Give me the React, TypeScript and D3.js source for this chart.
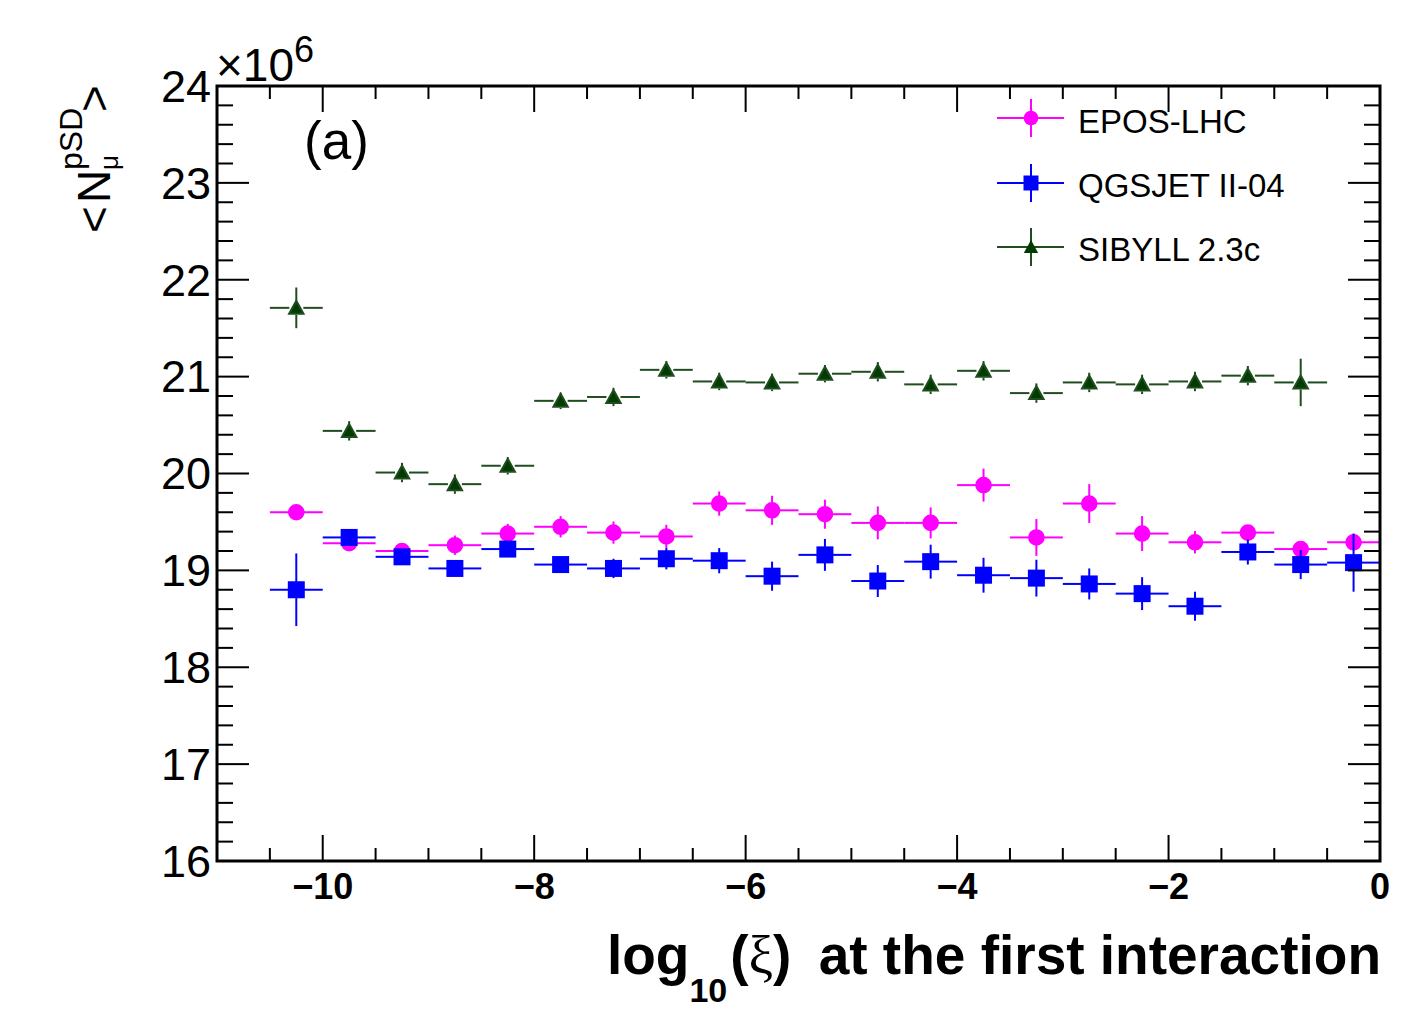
import * as d3 from "d3";

// bin centres of log10(xi), bins are 0.5 wide
const binCenters = [
  -10.25, -9.75, -9.25, -8.75, -8.25, -7.75, -7.25, -6.75, -6.25, -5.75, -5.25,
  -4.75, -4.25, -3.75, -3.25, -2.75, -2.25, -1.75, -1.25, -0.75, -0.25,
];
const binHalfWidth = 0.25;

// <N_mu^pSD> in units of 1e6
const eposMean = [
  19.6, 19.28, 19.2, 19.26, 19.38, 19.45, 19.39, 19.35, 19.69, 19.62, 19.58,
  19.49, 19.49, 19.88, 19.34, 19.69, 19.38, 19.29, 19.39, 19.22, 19.29,
];
const eposErr = [
  0.03, 0.06, 0.08, 0.1, 0.1, 0.11, 0.115, 0.12, 0.125, 0.15, 0.15, 0.17, 0.16,
  0.17, 0.19, 0.2, 0.18, 0.115, 0.07, 0.06, 0.05,
];

const qgsMean = [
  18.8, 19.34, 19.14, 19.02, 19.22, 19.06, 19.02, 19.12, 19.1, 18.94, 19.16,
  18.89, 19.09, 18.95, 18.92, 18.86, 18.76, 18.63, 19.19, 19.06, 19.08,
];
const qgsErr = [
  0.375, 0.05, 0.05, 0.05, 0.06, 0.06, 0.1, 0.11, 0.13, 0.15, 0.165, 0.165,
  0.175, 0.18, 0.19, 0.16, 0.17, 0.15, 0.13, 0.15, 0.3,
];

// SIBYLL has no entry in the last bin
const sibCenters = [
  -10.25, -9.75, -9.25, -8.75, -8.25, -7.75, -7.25, -6.75, -6.25, -5.75, -5.25,
  -4.75, -4.25, -3.75, -3.25, -2.75, -2.25, -1.75, -1.25, -0.75,
];
const sibMean = [
  21.71, 20.44, 20.01, 19.89, 20.08, 20.75, 20.79, 21.07, 20.95, 20.94, 21.03,
  21.05, 20.92, 21.06, 20.83, 20.94, 20.92, 20.95, 21.01, 20.94,
];
const sibErr = [
  0.21, 0.1, 0.1, 0.1, 0.09, 0.085, 0.095, 0.09, 0.09, 0.09, 0.09, 0.1, 0.1,
  0.1, 0.1, 0.1, 0.1, 0.1, 0.1, 0.245,
];

const xMajorTicks = [-10, -8, -6, -4, -2, 0];
const xTickLabels = ["\u221210", "\u22128", "\u22126", "\u22124", "\u22122", "0"];
const yMajorTicks = [16, 17, 18, 19, 20, 21, 22, 23, 24];

const legendNames = ["EPOS-LHC", "QGSJET II-04", "SIBYLL 2.3c"];

const W = 1406;
const H = 1019;
const frame = { left: 217, right: 1380, top: 86, bottom: 861 };
const sans = "'Liberation Sans', Arial, Helvetica, sans-serif";

const x = d3.scaleLinear().domain([-11, 0]).range([frame.left, frame.right]);
const y = d3.scaleLinear().domain([16, 24]).range([frame.bottom, frame.top]);

const xMinorTicks = d3.range(-10.5, 0, 0.5).filter((v) => !xMajorTicks.includes(v));
const yMinorTicks = d3
  .range(16.2, 24, 0.2)
  .filter((v) => Math.abs(v - Math.round(v)) > 0.01);

const GAP = 7; // ROOT leaves a gap around the marker

type MarkerKind = "circle" | "square" | "triangle";

function Marker({ kind, cx, cy, fill }: { kind: MarkerKind; cx: number; cy: number; fill: string }) {
  if (kind === "circle") return <circle cx={cx} cy={cy} r={7.3} fill={fill} />;
  if (kind === "square") return <rect x={cx - 7.5} y={cy - 7.5} width={15} height={15} fill={fill} />;
  return <path d={`M${cx},${cy - 7} L${cx + 7.2},${cy + 6} L${cx - 7.2},${cy + 6} Z`} fill={fill} />;
}

function Series({
  centers,
  means,
  errs,
  line,
  fill,
  kind,
}: {
  centers: number[];
  means: number[];
  errs: number[];
  line: string;
  fill: string;
  kind: MarkerKind;
}) {
  return (
    <g>
      {means.map((m, i) => {
        const cx = x(centers[i]);
        const cy = y(m);
        const xl = x(centers[i] - binHalfWidth);
        const xr = x(centers[i] + binHalfWidth);
        const yt = y(m + errs[i]);
        const yb = y(m - errs[i]);
        return (
          <g key={i} stroke={line} strokeWidth={2}>
            <line x1={xl} x2={cx - GAP} y1={cy} y2={cy} />
            <line x1={cx + GAP} x2={xr} y1={cy} y2={cy} />
            {cy - GAP > yt && <line x1={cx} x2={cx} y1={yt} y2={cy - GAP} />}
            {yb > cy + GAP && <line x1={cx} x2={cx} y1={cy + GAP} y2={yb} />}
            <Marker kind={kind} cx={cx} cy={cy} fill={fill} />
          </g>
        );
      })}
    </g>
  );
}

const styles = [
  { line: "#ff00ff", fill: "#ff00ff", kind: "circle" as MarkerKind },
  { line: "#0000ff", fill: "#0000ff", kind: "square" as MarkerKind },
  { line: "#1f4d1f", fill: "#003c00", kind: "triangle" as MarkerKind },
];

export default function App() {
  const legendY = [118, 183, 247];
  const legendBase = [133, 197, 261];

  return (
    <svg
      width={W}
      height={H}
      style={{ position: "absolute", left: 0, top: 0, background: "#fff" }}
      fontFamily={sans}
    >
      {/* data */}
      <Series centers={binCenters} means={eposMean} errs={eposErr} {...styles[0]} />
      <Series centers={binCenters} means={qgsMean} errs={qgsErr} {...styles[1]} />
      <Series centers={sibCenters} means={sibMean} errs={sibErr} {...styles[2]} />

      {/* ticks */}
      <g stroke="#000" strokeWidth={2}>
        {xMajorTicks.map((v) => (
          <g key={`xM${v}`}>
            <line x1={x(v)} x2={x(v)} y1={frame.bottom} y2={frame.bottom - 26} />
            <line x1={x(v)} x2={x(v)} y1={frame.top} y2={frame.top + 26} />
          </g>
        ))}
        {xMinorTicks.map((v) => (
          <g key={`xm${v}`}>
            <line x1={x(v)} x2={x(v)} y1={frame.bottom} y2={frame.bottom - 13} />
            <line x1={x(v)} x2={x(v)} y1={frame.top} y2={frame.top + 13} />
          </g>
        ))}
        {yMajorTicks.map((v) => (
          <g key={`yM${v}`}>
            <line x1={frame.left} x2={frame.left + 32} y1={y(v)} y2={y(v)} />
            <line x1={frame.right} x2={frame.right - 32} y1={y(v)} y2={y(v)} />
          </g>
        ))}
        {yMinorTicks.map((v) => (
          <g key={`ym${v.toFixed(1)}`}>
            <line x1={frame.left} x2={frame.left + 16} y1={y(v)} y2={y(v)} />
            <line x1={frame.right} x2={frame.right - 16} y1={y(v)} y2={y(v)} />
          </g>
        ))}
      </g>

      {/* frame */}
      <rect
        x={frame.left}
        y={frame.top}
        width={frame.right - frame.left}
        height={frame.bottom - frame.top}
        fill="none"
        stroke="#000"
        strokeWidth={3}
      />

      {/* y tick labels */}
      {yMajorTicks.map((v) => (
        <text key={`yl${v}`} x={frame.left - 6} y={y(v)} dy="0.35em" textAnchor="end" fontSize={45}>
          {v}
        </text>
      ))}

      {/* x tick labels */}
      {xMajorTicks.map((v, i) => (
        <text key={`xl${v}`} x={x(v)} y={899} textAnchor="middle" fontSize={36} fontWeight="bold">
          {xTickLabels[i]}
        </text>
      ))}

      {/* exponent */}
      <text x={216} y={81} fontSize={46}>
        {"\u00d710"}
        <tspan dy={-19} fontSize={36}>
          6
        </tspan>
      </text>

      {/* panel label */}
      <text x={304} y={159} fontSize={53}>
        (a)
      </text>

      {/* y title */}
      <g transform="translate(110,233) rotate(-90)" fontSize={46}>
        <text x={0} y={0}>{"<"}</text>
        <text x={30} y={0}>N</text>
        <text x={63} y={-28} fontSize={32}>
          pSD
        </text>
        <text x={63} y={8} fontSize={26}>
          {"\u03bc"}
        </text>
        <text x={121} y={0}>{">"}</text>
      </g>

      {/* x title */}
      <text x={1381} y={974} textAnchor="end" fontSize={55} fontWeight="bold">
        log
        <tspan dy={28} fontSize={34}>
          10
        </tspan>
        <tspan dy={-28} dx={3}>
          (
        </tspan>
        <tspan fontFamily="'Liberation Serif', 'Times New Roman', serif" fontWeight="normal">
          {"\u03be"}
        </tspan>
        <tspan>)</tspan>
        <tspan dx={12}> at the first interaction</tspan>
      </text>

      {/* legend */}
      {legendNames.map((name, i) => {
        const s = styles[i];
        const cy = legendY[i];
        return (
          <g key={name}>
            <g stroke={s.line} strokeWidth={2}>
              <line x1={997} x2={1064} y1={cy} y2={cy} />
              <line x1={1031} x2={1031} y1={cy - 19} y2={cy + 19} />
            </g>
            <Marker kind={s.kind} cx={1031} cy={cy} fill={s.fill} />
            <text x={1078} y={legendBase[i]} fontSize={33}>
              {name}
            </text>
          </g>
        );
      })}
    </svg>
  );
}
